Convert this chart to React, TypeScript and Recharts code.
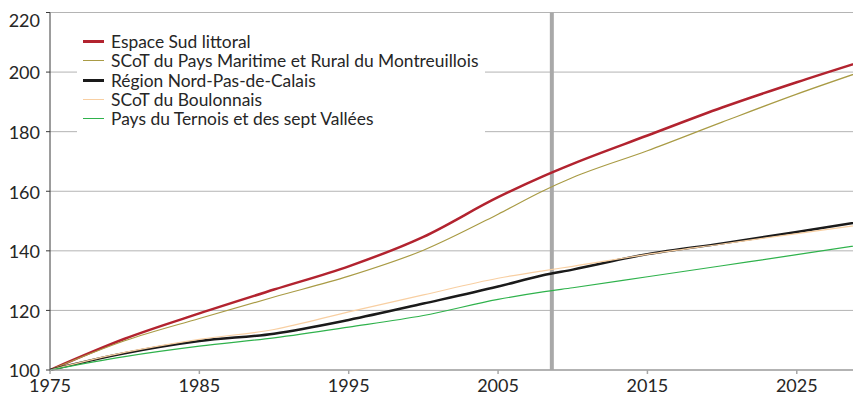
import * as React from "react";
import {
    CartesianGrid,
    Legend,
    Line,
    LineChart,
    ReferenceLine,
    XAxis,
    YAxis,
} from "recharts";

/* ---------- data ---------- */
const YEARS = [1975, 1980, 1985, 1990, 1995, 2000, 2005, 2008, 2010, 2015, 2020, 2025, 2030];

const ESPACE_SUD = [100, 110.5, 119, 127, 134.8, 144.7, 158, 165, 169.2, 178.7, 188.1, 196.6, 204.6];
const MONTREUILLOIS = [100, 109.8, 117.3, 124.5, 131.5, 140.2, 152.3, 160.1, 164.6, 173.6, 183.2, 192.6, 201.3];
const REGION = [100, 105.6, 109.7, 112.2, 116.8, 122.3, 128, 131.8, 133.7, 138.9, 142.5, 146.3, 150.3];
const BOULONNAIS = [100, 105.9, 110.3, 113.6, 119.5, 125.2, 130.8, 133.3, 134.8, 138.8, 142.3, 145.8, 149.2];
const TERNOIS = [100, 104.5, 108, 110.8, 114.4, 118.3, 123.7, 126.2, 127.6, 131.3, 135, 138.7, 142.5];

const X_TICKS = [1975, 1985, 1995, 2005, 2015, 2025];
const Y_TICKS = [100, 120, 140, 160, 180, 200, 220];
const MARKER_YEAR = 2008.6;

const SERIES = [
    { key: "sud", name: "Espace Sud littoral", values: ESPACE_SUD, color: "#B2232F", width: 2.5 },
    { key: "montreuil", name: "SCoT du Pays Maritime et Rural du Montreuillois", values: MONTREUILLOIS, color: "#A99B45", width: 1.2 },
    { key: "region", name: "Région Nord-Pas-de-Calais", values: REGION, color: "#1A1A1A", width: 2.5 },
    { key: "boulonnais", name: "SCoT du Boulonnais", values: BOULONNAIS, color: "#F8CFA2", width: 1.2 },
    { key: "ternois", name: "Pays du Ternois et des sept Vallées", values: TERNOIS, color: "#2FB24C", width: 1.2 },
];

const data = YEARS.map((year, i) => {
    const row: any = { year };
    SERIES.forEach((s) => (row[s.key] = s.values[i]));
    return row;
});

const FONT = "Lato, 'Open Sans', sans-serif";

/* ---------- ticks ---------- */
function YTick({ x, y, payload }: any) {
    // the top label sits inside the plot, as in the original
    const shift = payload.value === 220 ? 8 : 1;
    return (
        <text x={x} y={y + shift} dy="0.355em" textAnchor="end" fill="#262626" fontSize={18} fontFamily={FONT}>
            {payload.value}
        </text>
    );
}

function XTick({ x, y, payload }: any) {
    return (
        <text x={x} y={y} dy="0.71em" textAnchor="middle" fill="#262626" fontSize={18} fontFamily={FONT}>
            {payload.value}
        </text>
    );
}

/* ---------- legend ---------- */
function BoxLegend() {
    return (
        <div
            style={{
                background: "#fff",
                padding: "4px 6px 5px 6px",
                width: 396,
                fontFamily: FONT,
                fontSize: 17.4,
                color: "#262626",
            }}
        >
            {SERIES.map((s) => (
                <div key={s.key} style={{ display: "flex", alignItems: "center", height: 19.3 }}>
                    <span
                        style={{
                            display: "inline-block",
                            width: 21,
                            height: Math.max(1, Math.round(s.width)),
                            background: s.color,
                            marginRight: 7,
                            flex: "none",
                        }}
                    />
                    <span style={{ whiteSpace: "nowrap" }}>{s.name}</span>
                </div>
            ))}
        </div>
    );
}

export default function App() {
    return (
        <div style={{ width: 853, height: 392 }}>
            <LineChart
                width={853}
                height={392}
                data={data}
                margin={{ top: 4.5, right: 0, left: 0, bottom: 0 }}
            >
                <CartesianGrid vertical={false} stroke="#b4b4b4" strokeWidth={1} />
                <XAxis
                    dataKey="year"
                    type="number"
                    domain={[1975, 2029.3]}
                    allowDataOverflow
                    ticks={X_TICKS}
                    interval={0}
                    height={30}
                    tickSize={4}
                    tickMargin={5.5}
                    stroke="#a6a6a6"
                    strokeWidth={1.5}
                    tick={<XTick />}
                />
                <YAxis
                    type="number"
                    domain={[100, 220]}
                    ticks={Y_TICKS}
                    interval={0}
                    width={42}
                    tickSize={4}
                    tickMargin={6}
                    stroke="#3a3a3a"
                    tick={<YTick />}
                />
                <ReferenceLine x={MARKER_YEAR} stroke="#a9a9a9" strokeWidth={4} />
                <Legend
                    layout="vertical"
                    align="center"
                    verticalAlign="middle"
                    wrapperStyle={{ left: 69, top: 20, width: "auto", height: "auto" }}
                    content={() => <BoxLegend />}
                />
                {SERIES.map((s) => (
                    <Line
                        key={s.key}
                        type="monotone"
                        dataKey={s.key}
                        name={s.name}
                        stroke={s.color}
                        strokeWidth={s.width}
                        dot={false}
                        activeDot={false}
                        isAnimationActive={false}
                    />
                ))}
            </LineChart>
        </div>
    );
}
